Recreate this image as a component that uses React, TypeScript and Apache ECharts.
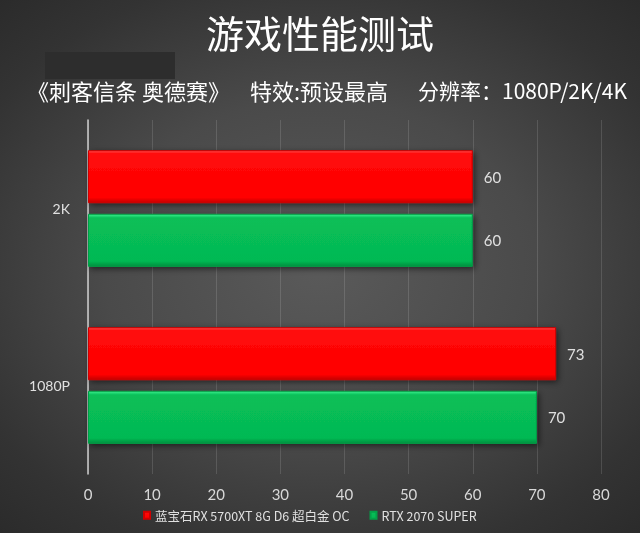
import React, { useEffect, useRef } from "react";
import * as echarts from "echarts";

const categories = ["1080P", "2K"];
const seriesRedName = "蓝宝石RX 5700XT 8G D6 超白金 OC";
const seriesGreenName = "RTX 2070 SUPER";
const redValues = [73, 60];
const greenValues = [70, 60];
const xTicks = [0, 10, 20, 30, 40, 50, 60, 70, 80];
const titleText = "游戏性能测试";
const subtitleParts = ["《刺客信条 奥德赛》", "特效:预设最高", "分辨率：1080P/2K/4K"];

export default function App() {
  const ref = useRef<HTMLDivElement>(null);
  useEffect(() => {
    if (!ref.current) return;
    const chart = echarts.init(ref.current, null, { renderer: "svg" });
    const cjk = '"Noto Sans CJK SC", "Microsoft YaHei", sans-serif';
    const num = 'Lato, "Noto Sans CJK SC", sans-serif';
    const redGrad = new echarts.graphic.LinearGradient(0, 0, 0, 1, [
      { offset: 0, color: "#ff4a4a" },
      { offset: 0.06, color: "#ff0a0a" },
      { offset: 0.9, color: "#ff0000" },
      { offset: 1, color: "#c40000" },
    ]);
    const greenGrad = new echarts.graphic.LinearGradient(0, 0, 0, 1, [
      { offset: 0, color: "#3cf08c" },
      { offset: 0.07, color: "#08bf58" },
      { offset: 0.9, color: "#05b953" },
      { offset: 1, color: "#038f3f" },
    ]);
    const labelStyle = {
      show: true,
      position: "right" as const,
      distance: 11,
      color: "#e0e0e0",
      fontSize: 15,
      fontFamily: num,
    };
    const subStyle = { fill: "#ffffff", fontSize: 21, fontFamily: cjk };
    chart.setOption({
      animation: false,
      backgroundColor: "transparent",
      title: [
        {
          text: titleText,
          left: "center",
          top: 7,
          textStyle: { color: "#ffffff", fontSize: 38, fontWeight: "normal", fontFamily: cjk },
        },
      ],
      graphic: [
        {
          type: "rect",
          shape: { x: 45, y: 52, width: 130, height: 27 },
          style: { fill: "#2d2d2d" },
          z: 1,
        },
        { type: "text", x: 27, y: 90, style: { ...subStyle, fontSize: 22, text: subtitleParts[0], textVerticalAlign: "middle" } },
        { type: "text", x: 250, y: 90, style: { ...subStyle, fontSize: 22, text: subtitleParts[1], textVerticalAlign: "middle" } },
        { type: "text", x: 418, y: 90, style: { ...subStyle, text: subtitleParts[2], textVerticalAlign: "middle" } },
      ],
      legend: {
        data: [seriesRedName, seriesGreenName],
        left: 138,
        top: 504,
        icon: "rect",
        itemWidth: 6,
        itemHeight: 7,
        itemGap: 20,
        textStyle: { color: "#e0e0e0", fontSize: 12.5, fontFamily: cjk },
      },
      grid: { left: 88, right: 39, top: 120, bottom: 59, containLabel: false },
      xAxis: {
        type: "value",
        min: 0,
        max: 80,
        interval: 10,
        axisLine: { show: false },
        axisTick: { show: false },
        splitLine: { show: true, lineStyle: { color: "rgba(255,255,255,0.13)", width: 1 } },
        axisLabel: {
          color: "#d8d8d8",
          fontSize: 15,
          fontFamily: num,
          margin: 12,
          formatter: (v: number) => (xTicks.includes(v) ? String(v) : ""),
        },
      },
      yAxis: {
        type: "category",
        data: categories,
        axisLine: { show: true, lineStyle: { color: "#cfcfcf", width: 1.5 } },
        axisTick: { show: false },
        axisLabel: { color: "#e0e0e0", fontSize: 14, fontFamily: num, margin: 18 },
      },
      series: [
        {
          name: seriesRedName,
          type: "bar",
          data: redValues,
          barWidth: 53,
          barGap: "20%",
          itemStyle: {
            color: redGrad,
            borderColor: "#d00000",
            borderWidth: 1,
            shadowColor: "rgba(0,0,0,0.55)",
            shadowBlur: 6,
            shadowOffsetX: 2,
            shadowOffsetY: 2,
          },
          label: labelStyle,
        },
        {
          name: seriesGreenName,
          type: "bar",
          data: greenValues,
          barWidth: 53,
          barGap: "20%",
          itemStyle: {
            color: greenGrad,
            borderColor: "#04a048",
            borderWidth: 1,
            shadowColor: "rgba(0,0,0,0.55)",
            shadowBlur: 6,
            shadowOffsetX: 2,
            shadowOffsetY: 2,
          },
          label: labelStyle,
        },
      ],
    });
    return () => chart.dispose();
  }, []);
  return (
    <div
      ref={ref}
      style={{
        position: "fixed",
        left: 0,
        top: 0,
        width: 640,
        height: 533,
        background:
          "radial-gradient(ellipse 75% 70% at 50% 50%, #5a5a5a 0%, #4a4a4a 45%, #333333 80%, #2a2a2a 100%)",
      }}
    />
  );
}
